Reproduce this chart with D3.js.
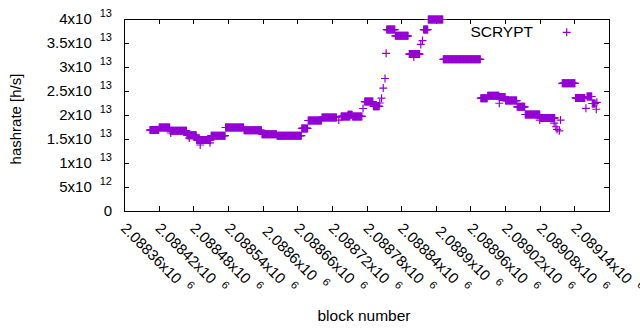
<!DOCTYPE html>
<html>
<head>
<meta charset="utf-8">
<script src="https://cdn.jsdelivr.net/npm/d3@7/dist/d3.min.js"></script>
<style>
body { margin: 0; background: #fff; }
text { font-family: "Liberation Sans", Arial, sans-serif; fill: #000; }
</style>
</head>
<body>
<svg width="640" height="330"></svg>
<script>

// hashrate readings, grouped in runs of blocks that share one value (x10^12 h/s)
const runStart = [2088345, 2088361, 2088380, 2088381, 2088409, 2088413, 2088426, 2088432, 2088449, 2088451,
	2088476, 2088508, 2088539, 2088565, 2088608, 2088619, 2088643, 2088672, 2088676, 2088688,
	2088696, 2088714, 2088717, 2088732, 2088743, 2088746, 2088749, 2088752, 2088754, 2088755,
	2088770, 2088794, 2088802, 2088814, 2088817, 2088819, 2088827, 2088853, 2088918, 2088930,
	2088950, 2088950, 2088961, 2088981, 2088995, 2089020, 2089021, 2089045, 2089048, 2089050,
	2089054, 2089056, 2089059, 2089082, 2089100, 2089102, 2089111, 2089118, 2089119];
const runEnd = [2088360, 2088379, 2088408, 2088381, 2088425, 2088413, 2088450, 2088432, 2088449, 2088475,
	2088507, 2088538, 2088564, 2088607, 2088618, 2088642, 2088668, 2088672, 2088691, 2088695,
	2088712, 2088714, 2088731, 2088742, 2088743, 2088746, 2088749, 2088752, 2088754, 2088769,
	2088792, 2088812, 2088802, 2088814, 2088817, 2088826, 2088852, 2088917, 2088929, 2088949,
	2088950, 2088960, 2088980, 2088994, 2089020, 2089020, 2089046, 2089045, 2089048, 2089050,
	2089054, 2089056, 2089081, 2089098, 2089100, 2089110, 2089116, 2089118, 2089119];
const runRate = [16.85, 17.4, 16.7, 16.25, 15.8, 15.2, 14.8, 13.75, 14.2, 15.7,
	17.4, 16.8, 16.0, 15.7, 17.2, 18.85, 19.5, 18.95, 19.7, 20.05,
	19.7, 21.35, 22.8, 21.8, 22.5, 23.5, 25.6, 27.6, 32.85, 37.8,
	36.5, 32.7, 32.1, 34.7, 35.5, 37.8, 39.9, 31.6, 23.5, 24.0,
	22.45, 23.75, 23.0, 21.7, 20.1, 18.95, 19.4, 18.3, 17.55, 17.0,
	16.7, 18.95, 26.6, 23.55, 21.4, 23.85, 22.4, 21.2, 22.65];

const seriesName = 'SCRYPT';

const yTicks = [0, 5e12, 1e13, 1.5e13, 2e13, 2.5e13, 3e13, 3.5e13, 4e13];
const yTickMant = ['0', '5', '1', '1.5', '2', '2.5', '3', '3.5', '4'];
const yTickExp = ['', '12', '13', '13', '13', '13', '13', '13', '13'];

const xTicks = [2088360, 2088420, 2088480, 2088540, 2088600, 2088660, 2088720,
	2088780, 2088840, 2088900, 2088960, 2089020, 2089080, 2089140];
const xTickMant = ['2.08836', '2.08842', '2.08848', '2.08854', '2.0886', '2.08866', '2.08872',
	'2.08878', '2.08884', '2.0889', '2.08896', '2.08902', '2.08908', '2.08914'];
const xTickExp = '6';

const purple = '#9400d3';

const svg = d3.select('svg');
const margin = {left: 124, right: 31, top: 19, bottom: 119};
const W = 640, H = 330;

const x = d3.scaleLinear().domain([2088300, 2089140]).range([margin.left, W - margin.right]);
const y = d3.scaleLinear().domain([0, 4e13]).range([H - margin.bottom, margin.top]);

// expand runs into one point per block
let points = [];
runStart.forEach((s, i) => {
	for (let b = s; b <= runEnd[i]; b++) points.push({block: b, rate: runRate[i] * 1e12});
});

// ticks, mirrored on all four sides
const tickLen = 5;
const tickG = svg.append('g').attr('stroke', '#000').attr('stroke-width', 1);
yTicks.forEach(t => {
	const yy = Math.round(y(t)) + 0.5;
	tickG.append('line').attr('x1', x.range()[0]).attr('x2', x.range()[0] + tickLen).attr('y1', yy).attr('y2', yy);
	tickG.append('line').attr('x1', x.range()[1]).attr('x2', x.range()[1] - tickLen).attr('y1', yy).attr('y2', yy);
});
xTicks.forEach(t => {
	const xx = Math.round(x(t)) + 0.5;
	tickG.append('line').attr('x1', xx).attr('x2', xx).attr('y1', y.range()[0]).attr('y2', y.range()[0] - tickLen);
	tickG.append('line').attr('x1', xx).attr('x2', xx).attr('y1', y.range()[1]).attr('y2', y.range()[1] + tickLen);
});

// border
svg.append('rect')
	.attr('x', x.range()[0] + 0.5).attr('y', y.range()[1] + 0.5)
	.attr('width', x.range()[1] - x.range()[0]).attr('height', y.range()[0] - y.range()[1])
	.attr('fill', 'none').attr('stroke', '#000').attr('stroke-width', 1);

// y tick labels
const yLab = svg.append('g').attr('font-size', 15).attr('text-anchor', 'end');
yTicks.forEach((t, i) => {
	const txt = yLab.append('text').attr('x', 112).attr('y', y(t) + 5);
	txt.append('tspan').text(yTickMant[i] + (yTickExp[i] ? 'x10' : ''));
	if (yTickExp[i]) {
		txt.append('tspan').attr('dx', 8).attr('dy', -7).attr('font-size', 11).text(yTickExp[i]);
	}
});

// x tick labels, rotated; centre of each label's box sits just below its tick
const xLab = svg.append('g').attr('font-size', 15).attr('text-anchor', 'middle');
xTicks.forEach((t, i) => {
	const txt = xLab.append('text').attr('transform', 'rotate(45)');
	txt.append('tspan').text(xTickMant[i] + 'x10');
	txt.append('tspan').attr('dx', 8).attr('dy', -7).attr('font-size', 11).text(xTickExp);
	const bb = txt.node().getBoundingClientRect();
	const cx = x(t) - 1 - (bb.left + bb.width / 2);
	const cy = 257 - (bb.top + bb.height / 2);
	txt.attr('transform', `translate(${cx},${cy}) rotate(45)`);
});

// axis titles
svg.append('text').attr('font-size', 15).attr('text-anchor', 'middle')
	.attr('transform', 'translate(21,119) rotate(-90)').text('hashrate [h/s]');
svg.append('text').attr('font-size', 15.5).attr('text-anchor', 'middle')
	.attr('x', 364).attr('y', 321).text('block number');

// the points
const plus = d => `M${x(d.block) - 4},${y(d.rate)}h8M${x(d.block)},${y(d.rate) - 4}v8`;
svg.append('g')
	.selectAll('path')
	.data(points)
	.join('path')
	.attr('d', plus)
	.attr('stroke', purple)
	.attr('stroke-width', 1.2)
	.attr('fill', 'none');

// key
svg.append('text').attr('font-size', 15.5).attr('text-anchor', 'end')
	.attr('x', 533).attr('y', 37).text(seriesName);
svg.append('path')
	.attr('d', 'M562.7,32.3h8M566.7,28.3v8')
	.attr('stroke', purple).attr('stroke-width', 1.2);

</script>
</body>
</html>
